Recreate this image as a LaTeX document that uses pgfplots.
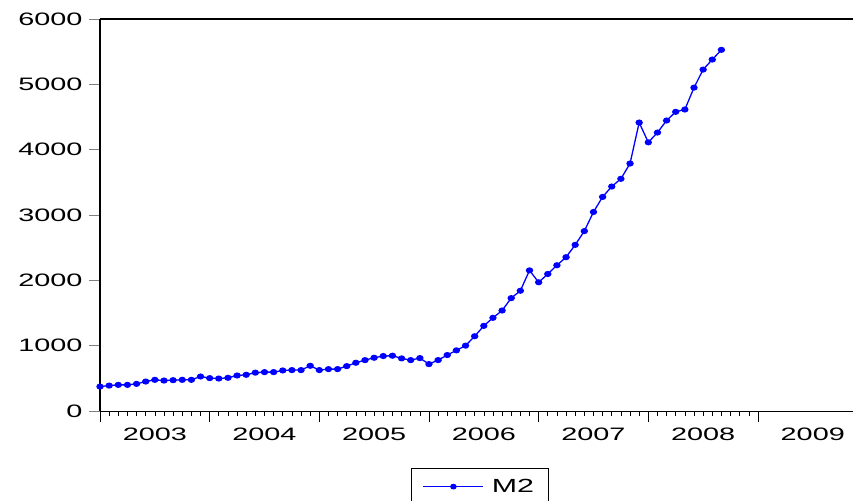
\documentclass[border=0pt]{standalone}
\usepackage{fontspec}
\setmainfont{Liberation Sans}
\newfontfamily\wide[FakeStretch=1.6]{Liberation Sans}
\usepackage{pgfplots}
\pgfplotsset{compat=1.18}

% M2, monthly, 2003m1 = 0
\pgfplotstableread{
m v
0 374
1 389
2 400
3 400
4 415
5 451
6 477
7 466
8 472
9 477
10 477
11 528
12 503
13 497
14 508
15 543
16 554
17 587
18 595
19 595
20 620
21 626
22 626
23 692
24 626
25 641
26 641
27 687
28 738
29 779
30 815
31 841
32 846
33 805
34 779
35 810
36 718
37 779
38 856
39 928
40 1000
41 1144
42 1303
43 1426
44 1538
45 1728
46 1841
47 2152
48 1970
49 2097
50 2231
51 2354
52 2543
53 2754
54 3046
55 3277
56 3436
57 3554
58 3788
59 4415
60 4112
61 4262
62 4446
63 4579
64 4615
65 4949
66 5226
67 5379
68 5528
}\mtwo

\begin{document}
\begin{tikzpicture}
\begin{axis}[
    scale only axis,
    width=753pt, height=392pt,
    xmin=0, xmax=82.4,
    ymin=0, ymax=6000,
    clip=false,
    axis x line*=bottom,
    axis y line*=left,
    x axis line style={line width=0.8pt},
    y axis line style={line width=1.6pt},
    tick align=outside,
    major tick length=11pt,
    minor tick length=5pt,
    xtick={0,12,24,36,48,60,72},
    xticklabels={2003,2004,2005,2006,2007,2008,2009},
    minor x tick num=11,
    xtick style={black, line width=0.6pt},
    ytick={0,1000,...,6000},
    ytick style={gray, line width=0.8pt},
    xticklabel style={xshift=54.8pt, yshift=-2pt},
    yticklabel style={xshift=-3pt},
    tick label style={font=\wide\fontsize{18}{20}\selectfont},
    /pgf/number format/assume math mode=true,
    /pgf/number format/1000 sep={},
    legend style={at={(0.504,-0.145)}, anchor=north, draw=black,
        line width=0.8pt, font=\wide\fontsize{19}{21}\selectfont,
        inner xsep=12pt, inner ysep=9pt,
        /tikz/every odd column/.append style={column sep=6pt}},
    legend image code/.code={
        \draw[blue, line width=0.8pt] (0pt,0pt) -- (60pt,0pt);
        \fill[blue] (30pt,0pt) ellipse (2.6pt and 2.2pt);
    },
]
\addplot[blue, line width=1.3pt, mark=*, mark size=2.4pt,
    mark options={xscale=1.25}] table[x=m, y=v] {\mtwo};
\addlegendentry{M2}
\draw[line width=1.6pt] (rel axis cs:0,1) -- (rel axis cs:1,1);
\coordinate (ll) at (rel axis cs:0,0);
\coordinate (ur) at (rel axis cs:1,1);
\end{axis}
\pgfresetboundingbox
\path ([shift={(-100pt,-90pt)}]ll) rectangle ([shift={(0pt,19pt)}]ur);
\end{tikzpicture}
\end{document}
